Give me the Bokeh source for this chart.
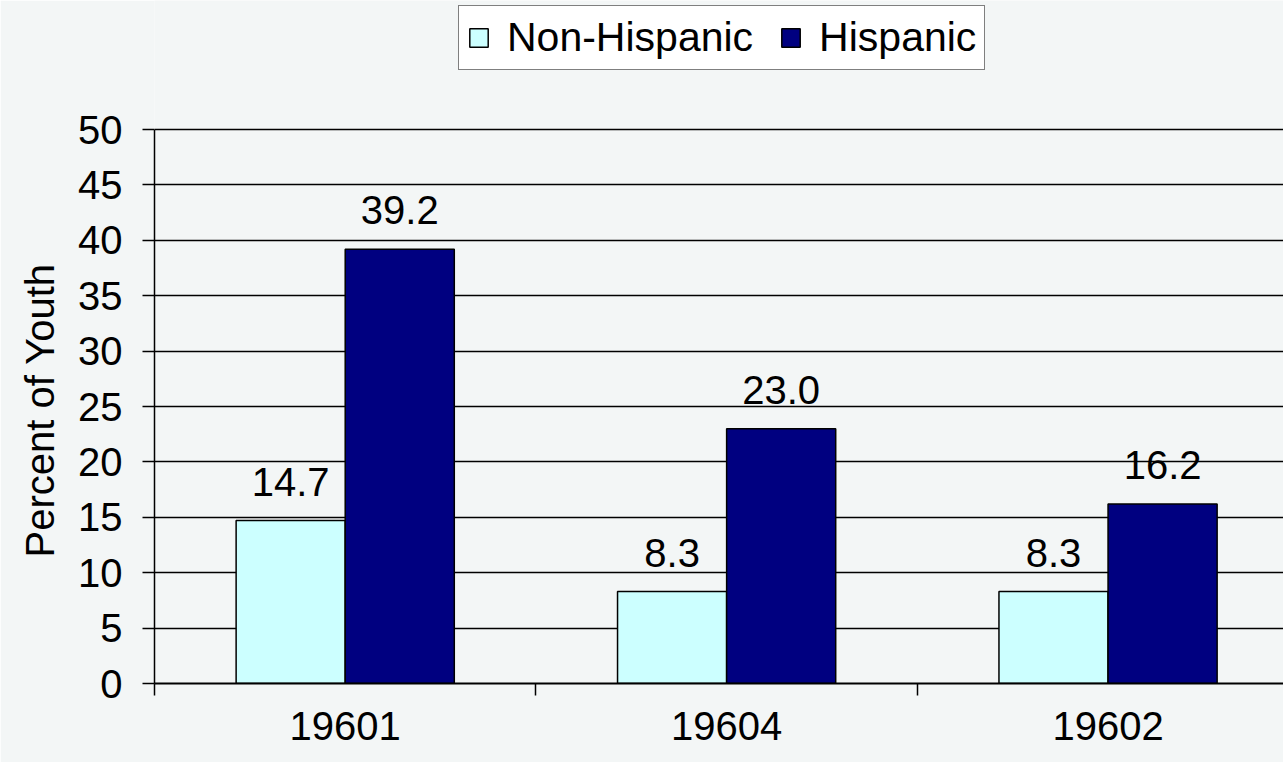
from bokeh.plotting import figure
from bokeh.models import ColumnDataSource, FixedTicker, Legend, LegendItem, Range1d, Title
from bokeh.transform import dodge
from bokeh.core.properties import value
from bokeh.embed import file_html
from bokeh.resources import INLINE

categories = ["19601", "19604", "19602"]
non_hispanic = [14.7, 8.3, 8.3]
hispanic = [39.2, 23.0, 16.2]
series_names = ["Non-Hispanic", "Hispanic"]
series_colors = ["#ccffff", "#000080"]
y_ticks = [0, 5, 10, 15, 20, 25, 30, 35, 40, 45, 50]
y_label = "Percent of Youth"

FONT = "Liberation Sans"
BG = "#f3f6f6"

x_pos = [i + 0.5 for i in range(len(categories))]
src = ColumnDataSource(dict(
    x=x_pos,
    cat=categories,
    nh=non_hispanic,
    h=hispanic,
    nh_lbl=[f"{v:.1f}" for v in non_hispanic],
    h_lbl=[f"{v:.1f}" for v in hispanic],
))

# plot area spans the full height so the legend can sit above the value axis;
# the value axis itself is bounded to 0..50
y_top = 50 + 129 / (554 / 50)

p = figure(width=1283, height=762,
           x_range=Range1d(0, 2.96), y_range=Range1d(0, y_top),
           output_backend="svg", toolbar_location=None,
           min_border_left=154, min_border_right=0,
           min_border_top=0, min_border_bottom=79)

p.background_fill_color = BG
p.border_fill_color = BG
p.outline_line_color = None

bw = 0.286
off = bw / 2
r1 = p.vbar(x=dodge("x", -off, range=p.x_range), top="nh", width=bw, bottom=0, source=src,
            fill_color=series_colors[0], line_color="black", line_width=1.5)
r2 = p.vbar(x=dodge("x", off, range=p.x_range), top="h", width=bw, bottom=0, source=src,
            fill_color=series_colors[1], line_color="black", line_width=1.5)

for col, lbl, d in (("nh", "nh_lbl", -off), ("h", "h_lbl", off)):
    p.text(x=dodge("x", d, range=p.x_range), y=col, text=lbl, source=src,
           text_align="center", text_baseline="alphabetic", y_offset=-39,
           text_font=value(FONT), text_font_size="40px", text_color="black")

# y axis
p.yaxis.ticker = FixedTicker(ticks=y_ticks)
p.yaxis.bounds = (0, 50)
p.yaxis.major_label_text_font = FONT
p.yaxis.major_label_text_font_size = "40px"
p.yaxis.major_label_text_color = "black"
p.yaxis.major_label_standoff = 20
p.yaxis.major_tick_out = 12
p.yaxis.major_tick_in = 0
p.yaxis.major_tick_line_width = 1.5
p.yaxis.major_tick_line_color = "black"
p.yaxis.minor_tick_line_color = None
p.yaxis.axis_line_width = 1.5
p.yaxis.axis_line_color = "black"

# y axis title, placed along the 0..50 part of the axis
ytitle = Title(text=y_label, align="left", offset=126, standoff=27,
               text_font=FONT, text_font_size="40px", text_font_style="normal",
               text_color="black")
p.add_layout(ytitle, "left")

# x axis
p.xaxis.ticker = FixedTicker(ticks=x_pos, minor_ticks=[0, 1, 2, 3])
p.xaxis.major_label_overrides = {x: c for x, c in zip(x_pos, categories)}
p.xaxis.major_tick_line_color = None
p.xaxis.minor_tick_line_color = "black"
p.xaxis.minor_tick_out = 12
p.xaxis.minor_tick_in = 0
p.xaxis.minor_tick_line_width = 1.5
p.xaxis.major_label_text_font = FONT
p.xaxis.major_label_text_font_size = "40px"
p.xaxis.major_label_text_color = "black"
p.xaxis.major_label_standoff = 16
p.xaxis.axis_line_width = 2
p.xaxis.axis_line_color = "black"

p.xgrid.grid_line_color = None
p.ygrid.grid_line_color = "black"
p.ygrid.grid_line_width = 1.5

legend = Legend(items=[LegendItem(label=series_names[0], renderers=[r1]),
                       LegendItem(label=series_names[1], renderers=[r2])],
                orientation="horizontal", location=(304, 613))
legend.label_text_font = FONT
legend.label_text_font_size = "41px"
legend.label_text_color = "black"
legend.glyph_width = 23
legend.glyph_height = 23
legend.label_standoff = 17
legend.spacing = 26
legend.padding = 8
legend.margin = 0
legend.border_line_color = "black"
legend.border_line_width = 1.5
legend.background_fill_color = "white"
legend.background_fill_alpha = 1
p.add_layout(legend)

open("out.html", "w").write(file_html(p, INLINE))
